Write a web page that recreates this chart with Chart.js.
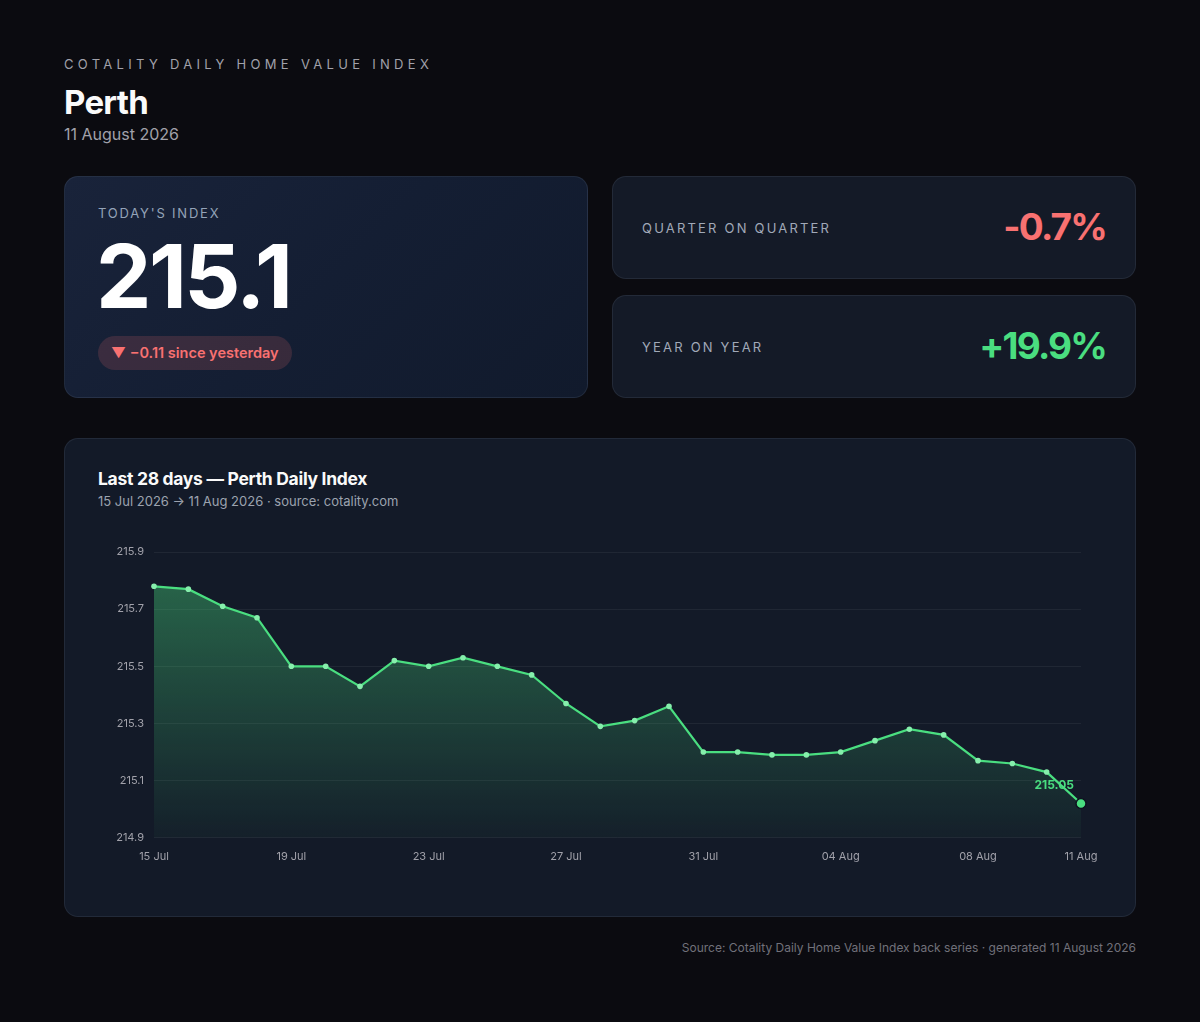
<!DOCTYPE html>
<html>
<head>
<meta charset="utf-8">
<script src="https://cdn.jsdelivr.net/npm/chart.js@4/dist/chart.umd.min.js"></script>
<style>
  * { box-sizing: border-box; margin: 0; padding: 0; }
  html, body { width: 1200px; height: 1022px; background: #0b0b10; }
  body { font-family: Inter, "Noto Sans", sans-serif; color: #f4f4f5; position: relative; }
  .eyebrow { position: absolute; left: 64px; top: 56px; font-size: 13px; letter-spacing: 4.3px; color: #a1a1aa; }
  .city { position: absolute; left: 64px; top: 82px; font-size: 33px; font-weight: 700; letter-spacing: -0.7px; color: #fafafa; }
  .date { position: absolute; left: 64px; top: 124px; font-size: 16px; color: #a1a1aa; }
  .card { position: absolute; border-radius: 14px; border: 1px solid rgba(148,163,184,0.12); }
  .today { left: 64px; top: 176px; width: 524px; height: 222px; background: linear-gradient(135deg, #19233a 0%, #141e33 50%, #111a2c 100%); }
  .today .lbl { position: absolute; left: 33px; top: 28px; font-size: 13px; letter-spacing: 1.8px; color: #94a3b8; }
  .today .big { position: absolute; left: 31px; top: 46px; font-size: 88px; font-weight: 700; letter-spacing: -2.5px; color: #ffffff; }
  .badge { position: absolute; left: 33px; top: 159px; height: 34px; padding: 0 13px; border-radius: 17px; background: rgba(248,113,113,0.16); color: #f87171; font-size: 14.5px; font-weight: 600; line-height: 34px; }
  .stat { left: 612px; width: 524px; height: 103px; background: #141a27; }
  .stat .lbl { position: absolute; left: 29px; top: 43px; font-size: 13px; letter-spacing: 2.2px; color: #a1a9b8; }
  .stat .val { position: absolute; right: 29px; top: 27px; font-size: 37px; font-weight: 700; letter-spacing: -1.8px; }
  .neg { color: #f87171; }
  .pos { color: #4ade80; }
  .chartcard { left: 64px; top: 438px; width: 1072px; height: 479px; background: #131a28; }
  .chartcard h2 { position: absolute; left: 33px; top: 29px; font-size: 17.5px; font-weight: 700; color: #fafafa; letter-spacing: -0.3px; }
  .chartcard .sub { position: absolute; left: 33px; top: 54px; font-size: 13px; color: #9ca3af; }
  .chartbox { position: absolute; left: 33px; top: 92px; width: 1006px; height: 350px; }
  .footer { position: absolute; right: 64px; top: 940px; font-size: 12px; color: #71717a; }
</style>
</head>
<body>
  <div class="eyebrow">COTALITY DAILY HOME VALUE INDEX</div>
  <div class="city">Perth</div>
  <div class="date">11 August 2026</div>

  <div class="card today">
    <div class="lbl">TODAY'S INDEX</div>
    <div class="big">215.1</div>
    <div class="badge">▼ −0.11 since yesterday</div>
  </div>
  <div class="card stat" style="top:176px">
    <div class="lbl">QUARTER ON QUARTER</div>
    <div class="val neg">-0.7%</div>
  </div>
  <div class="card stat" style="top:295px">
    <div class="lbl">YEAR ON YEAR</div>
    <div class="val pos">+19.9%</div>
  </div>

  <div class="card chartcard">
    <h2>Last 28 days — Perth Daily Index</h2>
    <div class="sub">15 Jul 2026 → 11 Aug 2026 · source: cotality.com</div>
    <div class="chartbox"><canvas id="indexChart"></canvas></div>
  </div>

  <div class="footer">Source: Cotality Daily Home Value Index back series · generated 11 August 2026</div>

<script>
// Daily index values, 15 Jul -> 11 Aug 2026
const days = ['15 Jul', '16 Jul', '17 Jul', '18 Jul', '19 Jul', '20 Jul', '21 Jul', '22 Jul', '23 Jul', '24 Jul',
  '25 Jul', '26 Jul', '27 Jul', '28 Jul', '29 Jul', '30 Jul', '31 Jul', '01 Aug', '02 Aug', '03 Aug',
  '04 Aug', '05 Aug', '06 Aug', '07 Aug', '08 Aug', '09 Aug', '10 Aug', '11 Aug'];
const indexValues = [215.78, 215.77, 215.71, 215.67, 215.50, 215.50, 215.43, 215.52, 215.50, 215.53,
  215.50, 215.47, 215.37, 215.29, 215.31, 215.36, 215.20, 215.20, 215.19, 215.19,
  215.20, 215.24, 215.28, 215.26, 215.17, 215.16, 215.13, 215.02];
const yTicks = [214.9, 215.1, 215.3, 215.5, 215.7, 215.9];
const latestLabel = '215.05';

const green = '#4ade80';
const lastIdx = indexValues.length - 1;

// label next to the latest point
const lastPointLabel = {
  id: 'lastPointLabel',
  afterDatasetsDraw(chart) {
    const pt = chart.getDatasetMeta(0).data[lastIdx];
    const c = chart.ctx;
    c.save();
    c.font = '700 12px Inter, sans-serif';
    c.fillStyle = green;
    c.textAlign = 'right';
    c.textBaseline = 'middle';
    c.fillText(latestLabel, pt.x - 7, pt.y - 18);
    c.restore();
  }
};

const ctx = document.getElementById('indexChart').getContext('2d');
const indexChart = new Chart(ctx, {
  type: 'line',
  data: {
    labels: days,
    datasets: [{
      data: indexValues,
      borderColor: green,
      borderWidth: 2.2,
      tension: 0,
      fill: 'start',
      backgroundColor: function (context) {
        const area = context.chart.chartArea;
        if (!area) return 'rgba(74,222,128,0.2)';
        const g = context.chart.ctx.createLinearGradient(0, area.top, 0, area.bottom);
        g.addColorStop(0, 'rgba(74,222,128,0.42)');
        g.addColorStop(1, 'rgba(74,222,128,0.03)');
        return g;
      },
      pointRadius: (c) => c.dataIndex === lastIdx ? 5 : 2.8,
      pointBackgroundColor: (c) => c.dataIndex === lastIdx ? green : '#86efac',
      pointBorderColor: (c) => c.dataIndex === lastIdx ? '#0f1420' : '#86efac',
      pointBorderWidth: (c) => c.dataIndex === lastIdx ? 1.5 : 0
    }]
  },
  options: {
    responsive: true,
    maintainAspectRatio: false,
    animation: false,
    layout: { padding: { top: 21, right: 23, bottom: 14, left: 0 } },
    plugins: {
      legend: { display: false },
      tooltip: { enabled: false }
    },
    scales: {
      x: {
        grid: { display: false },
        border: { display: false },
        ticks: {
          autoSkip: false,
          maxRotation: 0,
          padding: 4,
          color: '#a1a1aa',
          font: { size: 11, family: 'Inter' },
          callback: function (v, i) {
            return (i % 4 === 0 || i === lastIdx) ? days[i] : '';
          }
        }
      },
      y: {
        min: yTicks[0],
        max: yTicks[yTicks.length - 1],
        afterFit: function (scale) { scale.width = 56; },
        afterBuildTicks: function (scale) { scale.ticks = yTicks.map(v => ({ value: v })); },
        grid: { color: 'rgba(255,255,255,0.06)', drawTicks: false },
        border: { display: false },
        ticks: {
          padding: 10,
          color: '#a1a1aa',
          font: { size: 11, family: 'Inter' },
          callback: (v) => Number(v).toFixed(1)
        }
      }
    }
  },
  plugins: [lastPointLabel]
});
</script>
</body>
</html>
